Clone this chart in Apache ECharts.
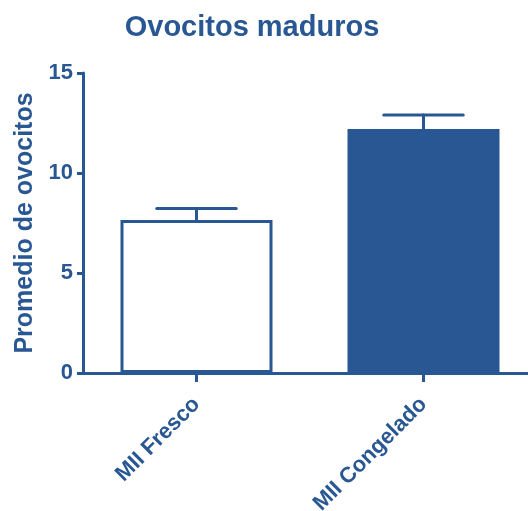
<!DOCTYPE html>
<html>
<head>
<meta charset="utf-8">
<script src="https://cdn.jsdelivr.net/npm/echarts@6/dist/echarts.min.js"></script>
<style>
  html, body { margin: 0; padding: 0; background: #ffffff; }
  #chart { width: 528px; height: 511px; }
</style>
</head>
<body>
<div id="chart"></div>
<script>
// Mature oocytes: mean per group with SEM
const categories = ['MII Fresco', 'MII Congelado'];
const means = [7.65, 12.2];
const sem = [0.58, 0.7];
const yTicks = [0, 5, 10, 15];

const BLUE = '#285793';
const FONT = 'Liberation Sans, Arial, sans-serif';

const barData = means.map((v, i) => ({
  value: v,
  itemStyle: {
    color: i === 0 ? '#ffffff' : BLUE,
    borderColor: BLUE,
    borderWidth: 3
  }
}));

const errData = means.map((v, i) => [i, v, v + sem[i]]);

const chart = echarts.init(document.getElementById('chart'), null, { renderer: 'canvas' });

chart.setOption({
  animation: false,
  backgroundColor: '#ffffff',
  title: {
    text: 'Ovocitos maduros',
    left: 247,
    top: 8,
    textAlign: 'center',
    textStyle: { color: BLUE, fontFamily: FONT, fontWeight: 'bold', fontSize: 29 }
  },
  grid: {
    left: 83, top: 73, height: 300, width: 454,
    containLabel: false,
    outerBoundsMode: 'none'
  },
  xAxis: {
    type: 'category',
    data: categories,
    axisLine: { lineStyle: { color: BLUE, width: 3 } },
    axisTick: { show: true, alignWithLabel: true, length: 9, lineStyle: { color: BLUE, width: 3 } },
    axisLabel: {
      rotate: 45,
      margin: 28,
      color: BLUE,
      fontFamily: FONT,
      fontWeight: 'bold',
      fontSize: 22
    }
  },
  yAxis: {
    type: 'value',
    min: yTicks[0],
    max: yTicks[yTicks.length - 1],
    interval: 5,
    name: 'Promedio de ovocitos',
    nameLocation: 'middle',
    nameGap: 45,
    nameTextStyle: { color: BLUE, fontFamily: FONT, fontWeight: 'bold', fontSize: 25 },
    splitLine: { show: false },
    axisLine: { show: true, lineStyle: { color: BLUE, width: 3 } },
    axisTick: { show: true, length: 6, lineStyle: { color: BLUE, width: 3 } },
    axisLabel: { margin: 10, color: BLUE, fontFamily: FONT, fontWeight: 'bold', fontSize: 22 }
  },
  series: [
    {
      type: 'bar',
      data: barData,
      barWidth: 152,
      z: 2
    },
    {
      type: 'custom',
      data: errData,
      z: 3,
      renderItem: function (params, api) {
        const x = api.value(0);
        const base = api.coord([x, api.value(1)]);
        const top = api.coord([x, api.value(2)]);
        const half = api.size([1, 0])[0] * 0.175;
        const style = { stroke: BLUE, lineWidth: 3, lineCap: 'round' };
        return {
          type: 'group',
          children: [
            { type: 'line', shape: { x1: base[0], y1: base[1], x2: top[0], y2: top[1] }, style: style },
            { type: 'line', shape: { x1: top[0] - half, y1: top[1], x2: top[0] + half, y2: top[1] }, style: style }
          ]
        };
      }
    }
  ]
});
</script>
</body>
</html>
